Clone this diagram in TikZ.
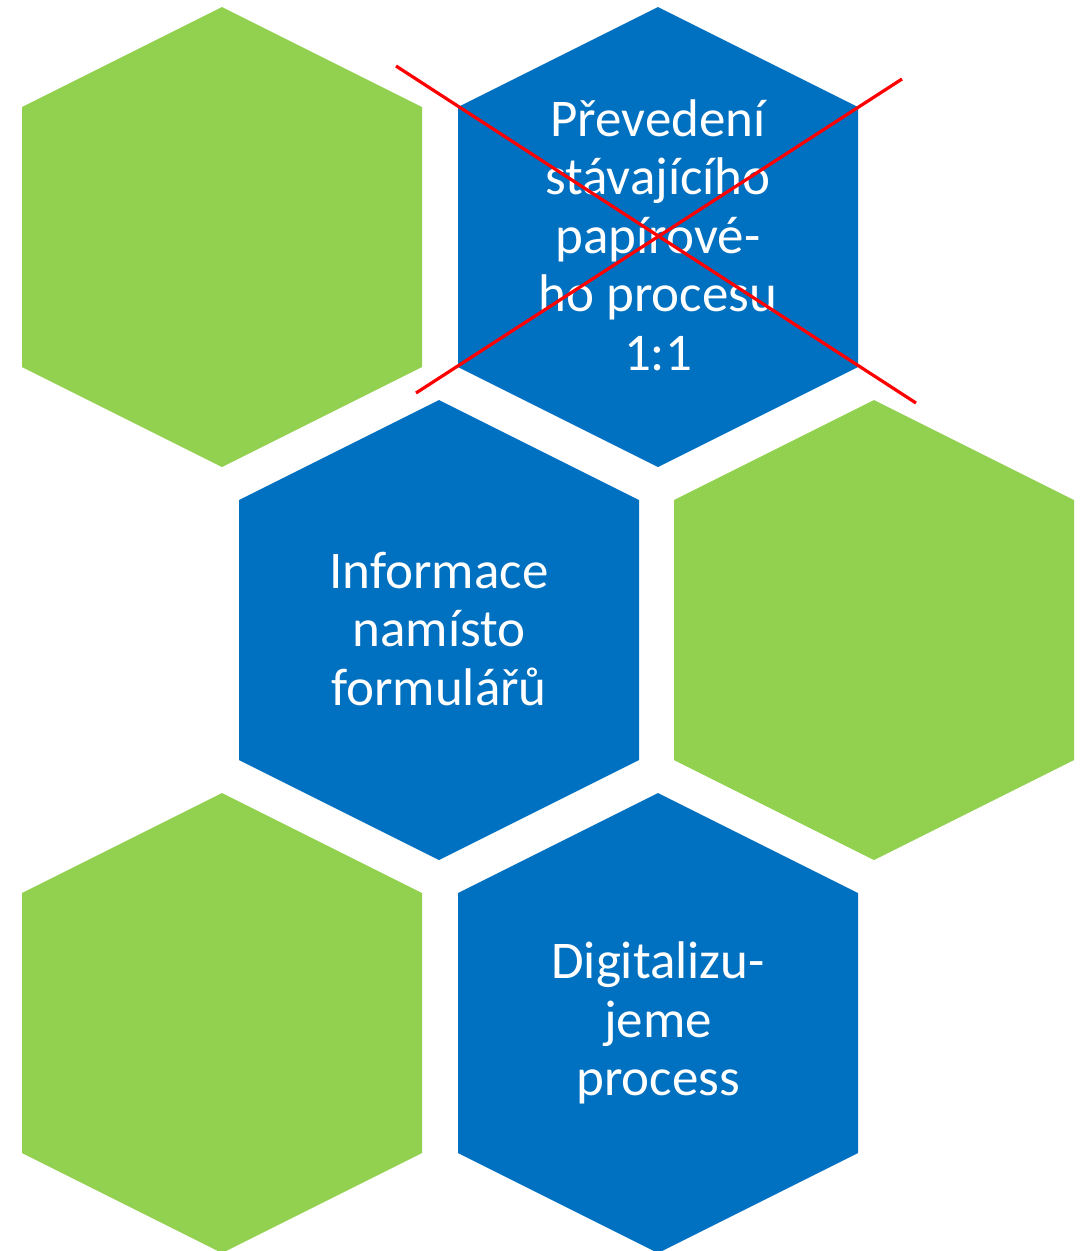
\documentclass[tikz,border=0pt]{standalone}
\usepackage{fontspec}
\setmainfont{Carlito}
\definecolor{hexgreen}{HTML}{92D050}
\definecolor{hexblue}{HTML}{0070C0}
\definecolor{crossred}{HTML}{FF0000}
\newcommand\hexshape[3]{\fill[#3] (#1,#2-230) -- (#1+200,#2-130) -- (#1+200,#2+130) -- (#1,#2+230) -- (#1-200,#2+130) -- (#1-200,#2-130) -- cycle;}
\begin{document}
\begin{tikzpicture}[x=1pt,y=-1pt,
  hexlabel/.style={text=white, align=center, inner sep=0pt, font=\fontsize{53}{58.5}\selectfont},
  crossline/.style={draw=crossred, line width=3.2pt}]
\useasboundingbox (0,0) rectangle (1086,1251);
\clip (0,0) rectangle (1086,1251);
\hexshape{222}{237}{hexgreen}
\hexshape{658}{237}{hexblue}
\hexshape{439}{630}{hexblue}
\hexshape{874}{630}{hexgreen}
\hexshape{222}{1023}{hexgreen}
\hexshape{658}{1023}{hexblue}
\node[hexlabel] (t1) at (658,235) {Převedení\\stávajícího\\papírové-\\ho procesu\\1:1};
\node[hexlabel] (t2) at (439,629) {Informace\\namísto\\formulářů};
\node[hexlabel] (t3) at (658,1023) {Digitalizu-\\jeme\\process};
\coordinate (c1a) at (396,66);
\coordinate (c1b) at (916,403);
\coordinate (c2a) at (416,393);
\coordinate (c2b) at (902,79);
\draw[crossline] (c1a) -- (c1b);
\draw[crossline] (c2a) -- (c2b);
\end{tikzpicture}
\end{document}
